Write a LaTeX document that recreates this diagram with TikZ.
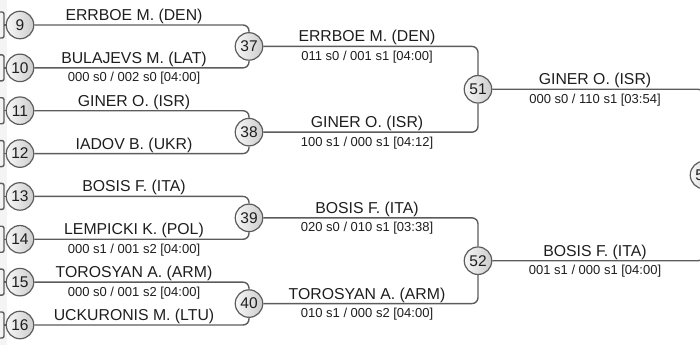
\documentclass[tikz,border=0pt]{standalone}
\usepackage{fontspec}
\setmainfont{Liberation Sans}
\definecolor{linegray}{HTML}{5C5C5C}
\definecolor{inkgray}{HTML}{1E1E1E}
\tikzset{
  match/.style={circle, draw=linegray, line width=1.2pt, minimum size=27.5pt, inner sep=0pt,
    left color=gray!6, right color=gray!40, text=inkgray, font=\fontsize{15.5}{16}\selectfont},
  link/.style={draw=linegray, line width=1.4pt, rounded corners=6pt},
  player/.style={anchor=base, inner sep=0pt, text=inkgray, font=\fontsize{15.8}{18}\selectfont},
  score/.style={anchor=base, inner sep=0pt, text=inkgray, font=\fontsize{13}{15}\selectfont},
}
\begin{document}
\begin{tikzpicture}[x=1pt,y=-1pt]
            \useasboundingbox (0.000000,0.000000) rectangle (700.000000,345.000000);
            \clip (0.000000,0.000000) rectangle (700.000000,345.000000);
            \fill [gray!9] (0.000000,0.000000) rectangle (7.000000,345.000000);%

            % Drawing matches of the first column
            \node [match] (m9)  at (20.000000,25.000000)  {9};%
            \node [match] (m10) at (20.000000,67.857143)  {10};%
            \node [match] (m11) at (20.000000,110.714286) {11};%
            \node [match] (m12) at (20.000000,153.571429) {12};%
            \node [match] (m13) at (20.000000,196.428571) {13};%
            \node [match] (m14) at (20.000000,239.285714) {14};%
            \node [match] (m15) at (20.000000,282.142857) {15};%
            \node [match] (m16) at (20.000000,325.000000) {16};%

            % Drawing matches of the second column
            \node [match] (m37) at (249.000000,46.428571)  {37};%
            \node [match] (m38) at (249.000000,132.142857) {38};%
            \node [match] (m39) at (249.000000,217.857143) {39};%
            \node [match] (m40) at (249.000000,303.571429) {40};%

            % Drawing matches of the third column
            \node [match] (m51) at (478.000000,89.285714)  {51};%
            \node [match] (m52) at (478.000000,260.714286) {52};%

            % Drawing match 53 (cut by the frame)
            \node [match] (m53) at (704.000000,175.000000) {53};%

            % Drawing stubs of the earlier column
            \foreach \k in {9,...,16} {
              \draw [link, rounded corners=2pt] ([shift={(-20,-13)}]m\k.center) -- ([shift={(-16,-13)}]m\k.center)
                -- ([shift={(-16,13)}]m\k.center) -- ([shift={(-20,13)}]m\k.center);%
              \draw [link] ([shift={(-16,0)}]m\k.center) -- (m\k.west);%
            }

            % Drawing brackets into 37, 38, 39, 40
            \draw [link] (m9.east)  -| (m37.north);%
            \draw [link] (m10.east) -| (m37.south);%
            \draw [link] (m11.east) -| (m38.north);%
            \draw [link] (m12.east) -| (m38.south);%
            \draw [link] (m13.east) -| (m39.north);%
            \draw [link] (m14.east) -| (m39.south);%
            \draw [link] (m15.east) -| (m40.north);%
            \draw [link] (m16.east) -| (m40.south);%

            % Drawing brackets into 51, 52
            \draw [link] (m37.east) -| (m51.north);%
            \draw [link] (m38.east) -| (m51.south);%
            \draw [link] (m39.east) -| (m52.north);%
            \draw [link] (m40.east) -| (m52.south);%

            % Drawing brackets into 53
            \draw [link] (m51.east) -| (m53.north);%
            \draw [link] (m52.east) -| (m53.south);%

            % Marking players and scores of the first column
            \node [player] (p9)  at (134.000000,20.500000)  {ERRBOE M. (DEN)};%
            \node [player] (p10) at (134.000000,63.357143)  {BULAJEVS M. (LAT)};%
            \node [score]  (s10) at (134.000000,81.857143)  {000 s0 / 002 s0 [04:00]};%
            \node [player] (p11) at (134.000000,106.214286) {GINER O. (ISR)};%
            \node [player] (p12) at (134.000000,149.071429) {IADOV B. (UKR)};%
            \node [player] (p13) at (134.000000,191.928571) {BOSIS F. (ITA)};%
            \node [player] (p14) at (134.000000,234.785714) {LEMPICKI K. (POL)};%
            \node [score]  (s14) at (134.000000,253.285714) {000 s1 / 001 s2 [04:00]};%
            \node [player] (p15) at (134.000000,277.642857) {TOROSYAN A. (ARM)};%
            \node [score]  (s15) at (134.000000,296.142857) {000 s0 / 001 s2 [04:00]};%
            \node [player] (p16) at (134.000000,320.500000) {UCKURONIS M. (LTU)};%

            % Marking players and scores of the second column
            \node [player] (p37) at (367.000000,41.928571)  {ERRBOE M. (DEN)};%
            \node [score]  (s37) at (367.000000,60.428571)  {011 s0 / 001 s1 [04:00]};%
            \node [player] (p38) at (367.000000,127.642857) {GINER O. (ISR)};%
            \node [score]  (s38) at (367.000000,146.142857) {100 s1 / 000 s1 [04:12]};%
            \node [player] (p39) at (367.000000,213.357143) {BOSIS F. (ITA)};%
            \node [score]  (s39) at (367.000000,231.857143) {020 s0 / 010 s1 [03:38]};%
            \node [player] (p40) at (367.000000,299.071429) {TOROSYAN A. (ARM)};%
            \node [score]  (s40) at (367.000000,317.571429) {010 s1 / 000 s2 [04:00]};%

            % Marking players and scores of the third column
            \node [player] (p51) at (595.000000,84.785714)  {GINER O. (ISR)};%
            \node [score]  (s51) at (595.000000,103.285714) {000 s0 / 110 s1 [03:54]};%
            \node [player] (p52) at (595.000000,256.214286) {BOSIS F. (ITA)};%
            \node [score]  (s52) at (595.000000,274.714286) {001 s1 / 000 s1 [04:00]};%
\end{tikzpicture}
\end{document}
